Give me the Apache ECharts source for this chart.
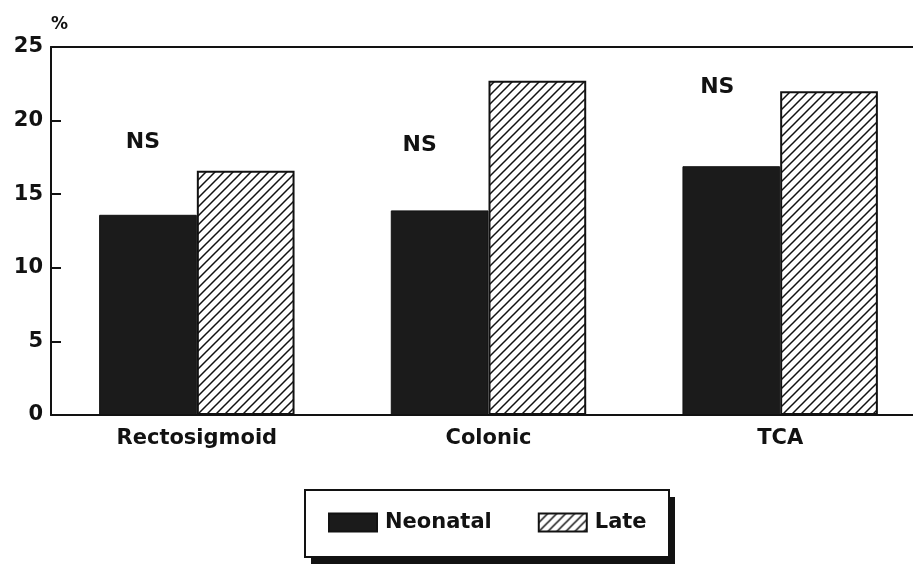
<!DOCTYPE html>
<html>
<head>
<meta charset="utf-8">
<script src="https://cdn.jsdelivr.net/npm/echarts@6/dist/echarts.min.js"></script>
<style>
  html, body { margin: 0; padding: 0; background: #fff; }
  #chart { width: 913px; height: 567px; }
</style>
</head>
<body>
<div id="chart"></div>
<script>
// Mean percentages by segment, neonatal vs late onset
const categories = ['Rectosigmoid', 'Colonic', 'TCA'];
const neonatal = [13.6, 13.9, 16.9];
const late = [16.6, 22.7, 22.0];
const yTicks = [0, 5, 10, 15, 20, 25];
const significance = ['NS', 'NS', 'NS'];
const significanceLevel = [18.5, 18.3, 22.25];

const FONT = 'DejaVu Sans';
const INK = '#121212';

// diagonal "/" hatching tile
function hatchPattern() {
  const s = 9;
  const c = document.createElement('canvas');
  c.width = s; c.height = s;
  const g = c.getContext('2d');
  g.fillStyle = '#ffffff';
  g.fillRect(0, 0, s, s);
  g.strokeStyle = INK;
  g.lineWidth = 1.5;
  g.beginPath();
  g.moveTo(-1, s + 1); g.lineTo(s + 1, -1);
  g.moveTo(-2, 2); g.lineTo(2, -2);
  g.moveTo(s - 2, s + 2); g.lineTo(s + 2, s - 2);
  g.stroke();
  return { image: c, repeat: 'repeat' };
}

const chart = echarts.init(document.getElementById('chart'), null, { renderer: 'canvas' });

// horizontal nudge of each significance note from its neonatal bar centre
const noteShift = [-5, -20, -14];

// legend frame with a solid drop shadow
const legendBox = { x: 305, y: 490, w: 364, h: 67, dx: 6, dy: 7 };

chart.setOption({
  backgroundColor: '#ffffff',
  animation: false,
  grid: { left: 51, top: 47, bottom: 152, width: 875, containLabel: false, outerBoundsMode: 'none' },
  graphic: [
    {
      type: 'rect', z: 0,
      shape: { x: legendBox.x + legendBox.dx, y: legendBox.y + legendBox.dy, width: legendBox.w, height: legendBox.h },
      style: { fill: INK }
    },
    {
      type: 'rect', z: 1,
      shape: { x: legendBox.x, y: legendBox.y, width: legendBox.w, height: legendBox.h },
      style: { fill: '#ffffff', stroke: INK, lineWidth: 2 }
    }
  ],
  legend: {
    left: 305,
    top: 490,
    z: 5,
    orient: 'horizontal',
    itemWidth: 48,
    itemHeight: 18,
    itemGap: 46,
    padding: [22, 22, 25, 23],
    icon: 'rect',
    textStyle: { fontFamily: FONT, fontWeight: 'bold', fontSize: 21, color: INK, padding: [0, 0, 0, 3] },
    data: ['Neonatal', 'Late']
  },
  xAxis: [
    {
      type: 'category',
      data: categories,
      position: 'bottom',
      axisLine: { show: true, lineStyle: { color: INK, width: 2 } },
      axisTick: { show: false },
      axisLabel: { margin: 13, fontFamily: FONT, fontWeight: 'bold', fontSize: 21, color: INK }
    },
    {
      type: 'category',
      data: categories,
      position: 'top',
      axisLine: { show: true, lineStyle: { color: INK, width: 2 } },
      axisTick: { show: false },
      axisLabel: { show: false }
    }
  ],
  yAxis: {
    type: 'value',
    min: yTicks[0],
    max: yTicks[yTicks.length - 1],
    interval: yTicks[1] - yTicks[0],
    name: '%',
    nameLocation: 'end',
    nameGap: 14,
    nameTextStyle: { fontFamily: FONT, fontWeight: 'bold', fontSize: 17, color: INK, align: 'left' },
    axisLine: { show: true, lineStyle: { color: INK, width: 2 } },
    axisTick: { show: true, inside: true, length: 10, lineStyle: { color: INK, width: 2 } },
    axisLabel: { margin: 8, fontFamily: FONT, fontWeight: 'bold', fontSize: 21, color: INK },
    splitLine: { show: false }
  },
  series: [
    {
      name: 'Neonatal',
      type: 'bar',
      data: neonatal,
      barGap: '0%',
      barCategoryGap: '33%',
      itemStyle: { color: '#1b1b1b', borderColor: INK, borderWidth: 1 },
      markPoint: {
        symbol: 'rect',
        symbolSize: 0,
        label: {
          show: true,
          formatter: p => p.name,
          fontFamily: FONT, fontWeight: 'bold', fontSize: 22, color: INK
        },
        data: categories.map((c, i) => ({
          name: significance[i],
          coord: [c, significanceLevel[i]],
          label: { offset: [noteShift[i], 0] }
        }))
      }
    },
    {
      name: 'Late',
      type: 'bar',
      data: late,
      barGap: '0%',
      barCategoryGap: '33%',
      itemStyle: { color: hatchPattern(), borderColor: INK, borderWidth: 2 }
    }
  ]
});
</script>
</body>
</html>
